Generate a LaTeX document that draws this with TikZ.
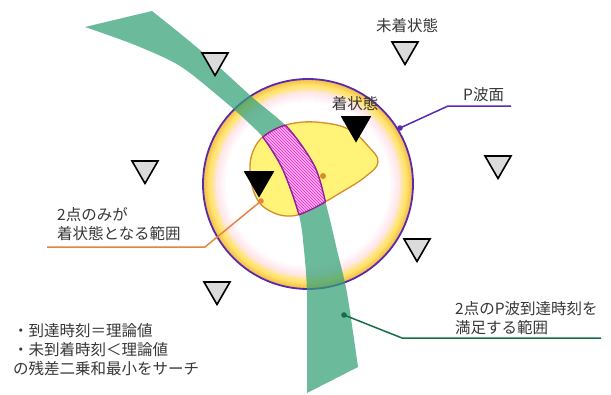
\documentclass[tikz,border=0pt]{standalone}
\usepackage{fontspec}
\newfontfamily\jp{Noto Sans CJK JP}
\usetikzlibrary{shapes.geometric,patterns}
\definecolor{ringorange}{RGB}{246,186,72}
\definecolor{ringyellow}{RGB}{255,228,110}
\definecolor{ringpink}{RGB}{255,232,238}
\definecolor{purpleline}{RGB}{88,44,172}
\definecolor{bandgreen}{RGB}{50,160,118}
\definecolor{blobfill}{RGB}{255,243,120}
\definecolor{bloborange}{RGB}{215,140,40}
\definecolor{hatchpink}{RGB}{255,175,238}
\definecolor{hatchmag}{RGB}{225,40,200}
\definecolor{hatchpurple}{RGB}{140,30,160}
\definecolor{leaderorange}{RGB}{232,132,62}
\definecolor{leadergreen}{RGB}{20,110,70}
\definecolor{textgrey}{RGB}{55,55,55}
\def\bandpath{(85,27) -- (152,11) -- plot[smooth,tension=0.5] coordinates {(152,11) (200,50) (252,97) (288,128) (315,167) (327,208) (337,250) (347,293) (358,367)} -- (307,393) -- plot[smooth,tension=0.5] coordinates {(307,393) (307,295) (304,250) (299,215) (283,170) (265,140) (250,124) (223,100) (180,66) (135,45) (85,27)} -- cycle}
\def\blobpath{plot[smooth cycle,tension=0.7] coordinates {(250,170) (255,147) (270,132) (295,123) (325,123) (350,130) (368,146) (378,162) (365,177) (340,193) (310,210) (290,216) (270,211) (256,197)}}
\tikzset{
  tri/.style={regular polygon, regular polygon sides=3, shape border rotate=180, minimum size=30pt, inner sep=0pt, line width=1.6pt, draw=black},
  unarr/.style={tri, fill=gray!28},
  arr/.style={tri, fill=black, minimum size=32pt},
  lbl/.style={font={\jp\fontsize{15.5pt}{19pt}\selectfont}, text=textgrey, inner sep=0pt},
}
\begin{document}
\begin{tikzpicture}[x=1pt,y=-1pt]
\useasboundingbox (0,0) rectangle (611,394);
% P-wave circle with ring gradient
\coordinate (cc) at (308,184);
\foreach \k in {0,...,6}{
  \pgfmathsetmacro\rr{105-\k}
  \pgfmathtruncatemacro\pp{100-\k*100/6}
  \fill[ringorange!\pp!ringyellow] (cc) circle[radius=\rr pt];
}
\foreach \k in {0,...,7}{
  \pgfmathsetmacro\rr{98-\k}
  \pgfmathtruncatemacro\pp{100-\k*100/7}
  \fill[ringyellow!\pp!ringpink] (cc) circle[radius=\rr pt];
}
\foreach \k in {0,...,8}{
  \pgfmathsetmacro\rr{90-\k}
  \pgfmathtruncatemacro\pp{100-\k*100/8}
  \fill[ringpink!\pp!white] (cc) circle[radius=\rr pt];
}
\fill[white] (cc) circle[radius=81pt];
\draw[purpleline, line width=1.8pt] (cc) circle[radius=105pt];
% band
\fill[bandgreen, fill opacity=0.72] \bandpath;
% blob
\filldraw[fill=blobfill, draw=bloborange, line width=1.3pt] \blobpath;
\fill[bloborange] (323,176) circle[radius=3pt];
% hatched intersection
\begin{scope}
  \clip \blobpath;
  \fill[hatchpink] \bandpath;
  \fill[pattern=north west lines, pattern color=hatchmag] \bandpath;
  \draw[hatchpurple, line width=1.4pt] \bandpath;
\end{scope}
\begin{scope}
  \clip \bandpath;
  \draw[hatchpurple, line width=1.4pt] \blobpath;
\end{scope}
% stations
\node[unarr] (t1) at (215,60.5) {};
\node[unarr] (t2) at (405,49.5) {};
\node[unarr] (t3) at (145,168.5) {};
\node[unarr] (t4) at (498,163.5) {};
\node[unarr] (t5) at (417,246.5) {};
\node[unarr] (t6) at (217,289.5) {};
\node[arr] (b1) at (356,125) {};
\node[arr] (b2) at (259,180) {};
% labels
\node[lbl] (lunarr) at (407,26) {未着状態};
\node[lbl] (larr) at (355,104) {着状態};
\node[lbl, anchor=west] (lp) at (463,95) {P波面};
\node[lbl, anchor=west, align=left] (ltwo) at (57,224.5) {2点のみが\\着状態となる範囲};
\node[lbl, anchor=west, align=left] (lpw) at (455,318) {2点のP波到達時刻を\\満足する範囲};
\node[lbl, anchor=west, align=left] (lnote) at (13,350) {・到達時刻＝理論値\\・未到着時刻＜理論値\\の残差二乗和最小をサーチ};
% leaders
\coordinate (pend) at (511,106);
\coordinate (pbend) at (448,106);
\coordinate (pdot) at (400,128);
\draw[purpleline, line width=1.5pt] (pend) -- (pbend) -- (pdot);
\fill[purpleline] (pdot) circle[radius=2.8pt];
\coordinate (oend) at (47,247);
\coordinate (obend) at (205,247);
\coordinate (odot) at (261,201);
\draw[leaderorange, line width=1.5pt] (oend) -- (obend) -- (odot);
\fill[leaderorange] (odot) circle[radius=2.8pt];
\coordinate (gend) at (601,338);
\coordinate (gbend) at (402,338);
\coordinate (gdot) at (344,315);
\draw[leadergreen, line width=1.5pt] (gend) -- (gbend) -- (gdot);
\fill[leadergreen] (gdot) circle[radius=2.8pt];
\end{tikzpicture}
\end{document}
